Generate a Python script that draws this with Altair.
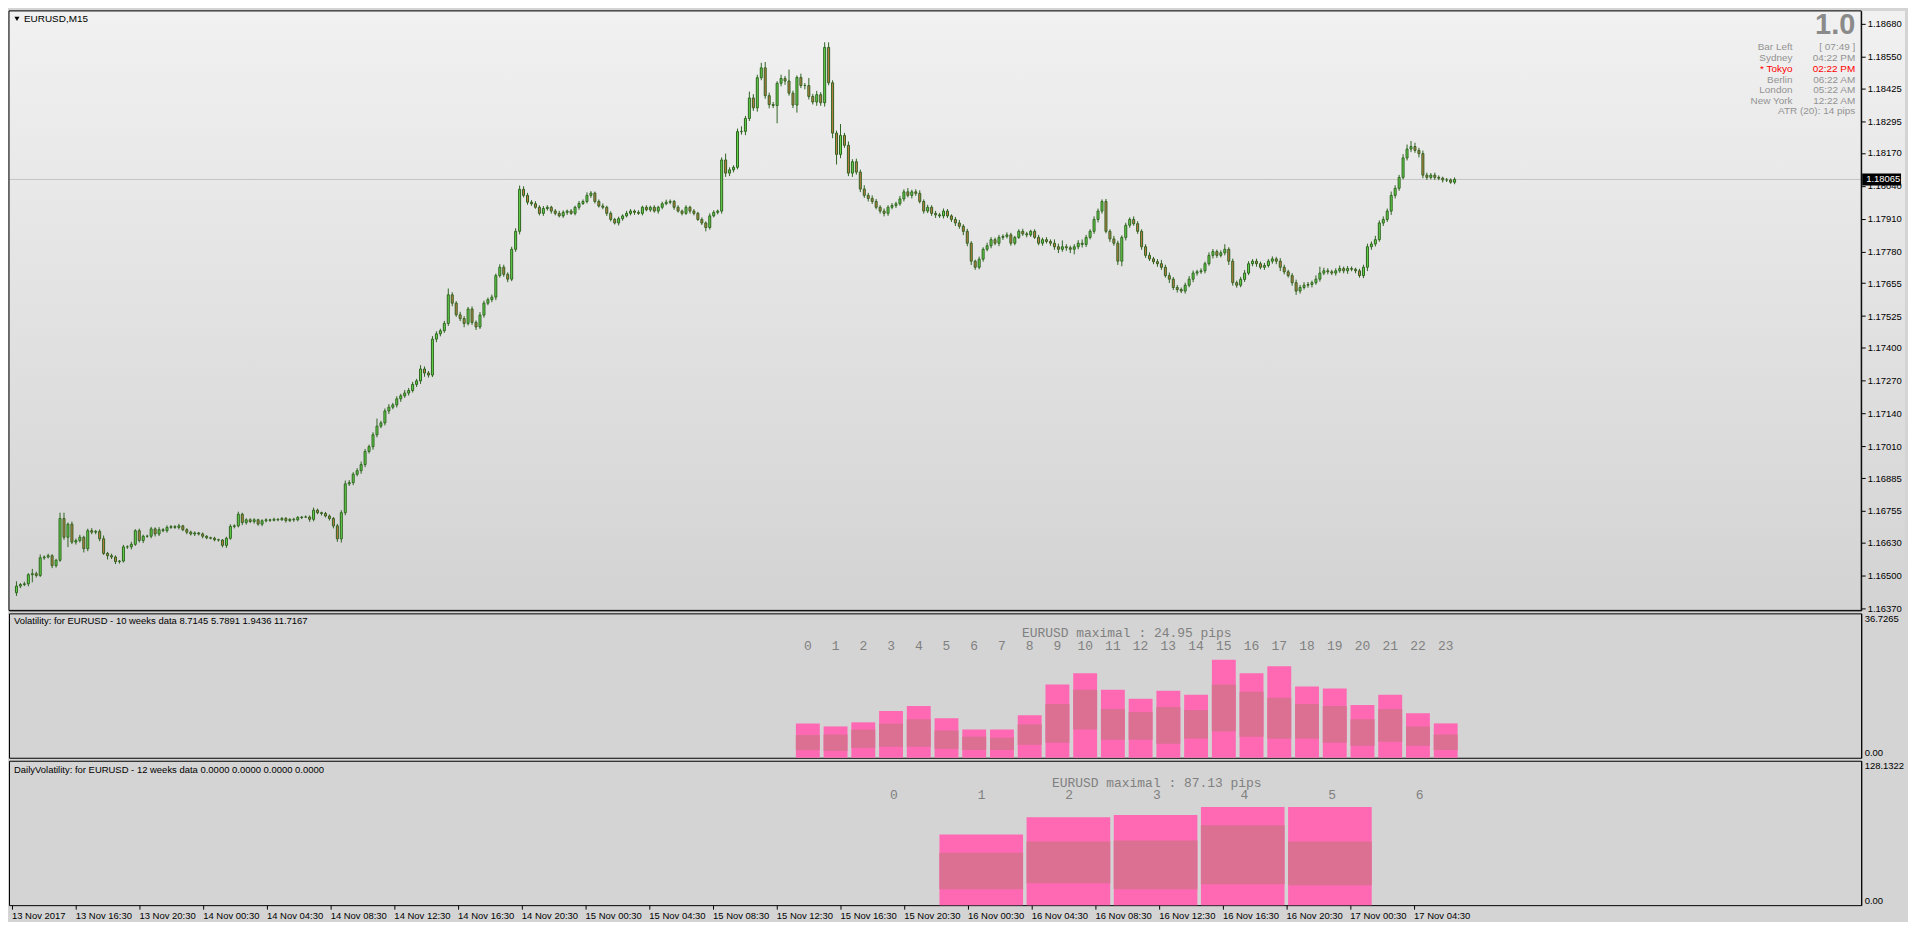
import altair as alt
import pandas as pd

# ------------------------------------------------------------------ data
symbol_title = "EURUSD,M15"
price_base = 1.16            # candle values below are in points (1e-5) above this base
first_open_pts = 432
close_pts = [
    458, 464, 467, 503, 507, 500, 570, 573, 578, 539,
    560, 725, 651, 703, 632, 638, 651, 606, 677, 671,
    674, 645, 587, 578, 573, 555, 557, 613, 613, 623,
    677, 638, 655, 655, 684, 664, 681, 677, 690, 693,
    690, 696, 681, 671, 664, 668, 664, 655, 649, 647,
    641, 640, 619, 647, 694, 696, 742, 709, 720, 713,
    720, 703, 716, 720, 718, 722, 720, 725, 717, 722,
    720, 729, 731, 731, 722, 758, 748, 745, 735, 725,
    696, 645, 748, 862,
    867, 900, 914, 938, 990, 1009, 1056, 1090, 1103, 1150,
    1165, 1174, 1198, 1210, 1221, 1231, 1255, 1269, 1316, 1300,
    1292, 1434, 1455, 1467, 1496, 1609, 1576, 1530, 1515, 1496,
    1553, 1500, 1482, 1529, 1576, 1590, 1600, 1685, 1718, 1690,
    1671, 1789, 1860, 2026, 2002, 1975, 1969, 1955, 1931, 1950,
    1955, 1940,
    1931, 1921, 1935, 1940, 1931, 1955, 1970, 1978, 2002, 2011,
    1978, 1960, 1955, 1931, 1907, 1893, 1910, 1921, 1931, 1940,
    1935, 1931, 1955, 1945, 1955, 1940, 1955, 1969, 1975, 1978,
    1955, 1940, 1931, 1955, 1940, 1931, 1907, 1893, 1875, 1921,
    1935, 1940,
    2142, 2090, 2103, 2113, 2254, 2255, 2306, 2387, 2348, 2467,
    2506, 2396, 2361, 2357, 2445, 2464, 2454, 2406, 2359, 2468,
    2436, 2436, 2393, 2371, 2400, 2368, 2587, 2447, 2248, 2164,
    2239, 2200, 2090, 2135, 2094, 2027,
    2002, 1990, 1978, 1955, 1940, 1931, 1955, 1962, 1969, 1988,
    2016, 2002, 2016, 2010, 1978, 1940, 1955, 1931, 1925, 1921,
    1940, 1921, 1907, 1893, 1880, 1860, 1813, 1742, 1718, 1750,
    1789, 1803, 1827, 1813, 1836, 1840, 1846, 1813, 1836, 1860,
    1850, 1846, 1860, 1836, 1813, 1827, 1820, 1813, 1799, 1789,
    1799, 1795, 1789, 1799, 1813, 1808, 1836, 1860, 1907, 1940,
    1978, 1860, 1830, 1813, 1742, 1836, 1884, 1907, 1890, 1860,
    1799, 1765, 1751, 1740, 1732, 1718, 1685, 1671, 1638, 1630,
    1624, 1647, 1671, 1695, 1700, 1704, 1732, 1765, 1780, 1765,
    1775, 1789, 1742, 1657, 1647, 1670, 1695, 1732, 1742, 1732,
    1718, 1725, 1742, 1751, 1742, 1718, 1700, 1685, 1657, 1624,
    1638, 1647, 1650, 1657, 1671, 1695, 1704, 1700, 1695, 1704,
    1713, 1704, 1713, 1710, 1704, 1685, 1718, 1799, 1810, 1827,
    1893, 1907, 1940, 2002, 2030, 2073, 2150, 2185, 2195, 2180,
    2167, 2082, 2073, 2082, 2073, 2070, 2063, 2063, 2054, 2065,
]
up_wick_pts = [
    19, 6, 8, 6, 19, 8, 13, 6, 8, 6, 6, 23, 23, 6, 10, 8, 10, 6, 8, 10,
    6, 8, 13, 6, 8, 6, 4, 8, 6, 10, 6, 8, 6, 6, 8, 6, 10, 6, 8, 6,
    6, 8, 4, 6, 6, 6, 4, 6, 4, 4, 6, 4, 4, 6, 8, 6, 10, 6, 6, 6,
    6, 4, 6, 6, 4, 6, 4, 6, 6, 4, 6, 6, 4, 6, 6, 10, 6, 4, 6, 6,
    6, 8, 10, 13, 10, 8, 10, 12, 10, 8, 10, 30, 8, 10, 12, 8, 10, 8, 12, 10,
    10, 8, 15, 10, 8, 12, 10, 8, 10, 25, 10, 8, 12, 10, 8, 10, 8, 12, 10, 8,
    10, 8, 12, 10, 8, 10, 12, 15, 12, 10, 8, 10, 8, 10, 8, 6, 8, 10, 8, 6,
    8, 6, 10, 8, 12, 8, 6, 8, 10, 6, 8, 6, 8, 6, 10, 8, 6, 8, 6, 8,
    6, 8, 6, 8, 10, 8, 6, 8, 6, 8, 6, 8, 6, 8, 6, 10, 8, 6, 10, 25,
    10, 8, 12, 20, 10, 25, 15, 12, 20, 23, 12, 10, 8, 15, 10, 45, 10, 8, 15, 10,
    30, 10, 15, 10, 20, 20, 10, 10, 45, 10, 15, 10, 12, 10, 15, 10, 12, 10, 8, 10,
    8, 10, 8, 12, 10, 15, 8, 10, 12, 8, 10, 8, 10, 8, 10, 8, 6, 10, 12, 8,
    10, 8, 6, 10, 8, 12, 10, 8, 10, 8, 10, 8, 6, 8, 10, 8, 6, 8, 10, 8,
    10, 8, 15, 12, 25, 10, 8, 10, 12, 15, 10, 8, 12, 10, 8, 10, 8, 12, 10, 8,
    10, 8, 12, 10, 8, 10, 12, 8, 10, 15, 10, 12, 8, 10, 8, 10, 12, 10, 8, 10,
    8, 12, 10, 8, 10, 20, 8, 10, 8, 10, 12, 10, 8, 10, 8, 10, 8, 10, 8, 12,
    10, 8, 10, 12, 10, 12, 10, 8, 15, 25, 12, 10, 8, 10, 12, 8, 10, 8, 6, 8,
    10, 12, 10, 15, 10, 12, 10, 15, 12, 10, 15, 18, 22, 15, 10, 12, 10, 8, 10, 8, 6, 8, 6, 8,
]
down_wick_pts = [
    13, 8, 6, 10, 30, 8, 6, 8, 6, 10, 8, 6, 10, 39, 8, 10, 8, 15, 10, 8,
    8, 10, 6, 15, 8, 10, 8, 6, 8, 10, 6, 8, 10, 6, 8, 10, 8, 6, 8, 6,
    6, 8, 6, 8, 6, 8, 6, 8, 6, 4, 6, 6, 8, 10, 6, 8, 6, 10, 8, 6,
    8, 6, 8, 6, 6, 4, 6, 4, 8, 6, 8, 6, 6, 4, 10, 8, 6, 8, 6, 8,
    10, 12, 15, 10, 8, 10, 8, 12, 10, 8, 12, 10, 8, 10, 12, 8, 10, 12, 8, 10,
    8, 10, 12, 15, 10, 8, 12, 10, 8, 10, 12, 8, 10, 15, 8, 10, 12, 8, 10, 8,
    10, 12, 8, 10, 12, 8, 10, 12, 8, 10, 8, 6, 8, 10, 8, 10, 8, 6, 8, 10,
    6, 8, 10, 6, 8, 10, 8, 6, 8, 10, 8, 6, 10, 8, 6, 8, 10, 6, 8, 6,
    8, 6, 10, 8, 6, 8, 10, 6, 8, 6, 10, 8, 6, 8, 15, 8, 6, 8, 10, 15,
    12, 10, 8, 12, 15, 10, 12, 15, 10, 12, 15, 10, 70, 12, 15, 10, 12, 30, 10, 15,
    12, 10, 15, 12, 15, 10, 20, 40, 15, 10, 12, 15, 10, 12, 10, 12, 10, 8, 10, 12,
    10, 8, 10, 8, 10, 8, 12, 10, 8, 10, 8, 10, 12, 8, 10, 8, 10, 12, 10, 15,
    12, 15, 10, 8, 10, 8, 10, 8, 12, 10, 8, 10, 8, 6, 8, 10, 8, 6, 8, 10,
    8, 10, 12, 15, 10, 12, 15, 20, 10, 12, 10, 8, 10, 12, 10, 8, 12, 10, 15, 20,
    12, 10, 8, 10, 12, 10, 8, 10, 12, 10, 8, 15, 10, 12, 8, 10, 8, 12, 10, 8,
    10, 8, 12, 10, 8, 10, 15, 12, 10, 8, 10, 8, 10, 12, 8, 10, 8, 10, 12, 15,
    10, 8, 12, 15, 10, 8, 10, 12, 8, 10, 8, 10, 8, 10, 8, 10, 12, 8, 10, 8,
    10, 15, 12, 10, 8, 12, 10, 15, 12, 10, 8, 10, 12, 10, 15, 12, 10, 8, 10, 8, 10, 8, 6, 8,
]

price_ticks = [1.18680, 1.18550, 1.18425, 1.18295, 1.18170, 1.18040, 1.17910,
               1.17780, 1.17655, 1.17525, 1.17400, 1.17270, 1.17140, 1.17010,
               1.16885, 1.16755, 1.16630, 1.16500, 1.16370]
price_domain = [1.16362, 1.18731]
current_price = 1.18065

time_tick_bars = [0, 16, 32, 48, 64, 80, 96, 112, 128, 144, 160, 176,
                  192, 208, 224, 240, 256, 272, 288, 304, 320, 336, 352]
time_tick_labels = ["13 Nov 2017", "13 Nov 16:30", "13 Nov 20:30", "14 Nov 00:30",
                    "14 Nov 04:30", "14 Nov 08:30", "14 Nov 12:30", "14 Nov 16:30",
                    "14 Nov 20:30", "15 Nov 00:30", "15 Nov 04:30", "15 Nov 08:30",
                    "15 Nov 12:30", "15 Nov 16:30", "15 Nov 20:30", "16 Nov 00:30",
                    "16 Nov 04:30", "16 Nov 08:30", "16 Nov 12:30", "16 Nov 16:30",
                    "16 Nov 20:30", "17 Nov 00:30", "17 Nov 04:30"]

big_text = "1.0"
info_labels = ["Bar Left", "Sydney", "* Tokyo", "Berlin", "London", "New York"]
info_values = ["[ 07:49 ]", "04:22 PM", "02:22 PM", "06:22 AM", "05:22 AM", "12:22 AM"]
info_highlight = [False, False, True, False, False, False]
atr_text = "ATR (20): 14 pips"

vol_title = "Volatility: for EURUSD - 10 weeks data  8.7145 5.7891 1.9436 11.7167"
vol_header = "EURUSD maximal : 24.95 pips"
vol_max = 36.7265
hours = list(range(24))
hour_total = [8.71, 7.97, 9.01, 11.87, 13.17, 10.05, 7.19, 7.19, 10.83, 18.63, 21.48, 17.33,
              14.99, 17.07, 16.03, 24.95, 21.48, 23.30, 18.11, 17.59, 13.43, 16.03, 11.35, 8.75]
hour_band_hi = [5.79, 5.89, 7.19, 8.66, 9.79, 6.93, 5.37, 5.11, 8.49, 13.69, 17.33, 12.39,
                11.61, 12.91, 12.13, 18.63, 16.81, 15.25, 13.69, 13.17, 9.79, 12.39, 7.97, 5.89]
hour_band_lo = [1.94, 1.73, 2.51, 2.77, 2.77, 2.25, 1.99, 1.99, 3.29, 3.81, 7.19, 4.59,
                4.59, 3.55, 4.85, 6.67, 5.37, 4.85, 4.85, 3.81, 3.03, 4.07, 3.03, 1.99]

daily_title = "DailyVolatility: for EURUSD - 12 weeks data  0.0000 0.0000 0.0000 0.0000"
daily_header = "EURUSD maximal : 87.13 pips"
daily_max = 128.1322
day_labels = [0, 1, 2, 3, 4, 5, 6]
days = [1, 2, 3, 4, 5]
day_total = [62.8, 78.1, 79.9, 87.13, 87.0]
day_band_hi = [46.6, 56.5, 57.4, 70.9, 56.5]
day_band_lo = [14.1, 19.5, 14.1, 18.6, 17.7]

# ------------------------------------------------------------------ layout / style
W = 1860
H_MAIN = 602
H_SUB = 145
FONT = "Liberation Sans"
MONO = "Liberation Mono"
FS = 9.5
BG = "#D4D4D4"
UP_FILL = "#62D64A"
DN_FILL = "#C47C45"
OUTLINE = "#2F6420"
WICK = "#2F6420"
PINK = "#FF69B4"
PINK_DARK = "#DB7093"
GRAY_TXT = "#808080"
INFO_TXT = "#939393"

# ------------------------------------------------------------------ candles
rows = []
prev = first_open_pts
for i, (c, uw, dw) in enumerate(zip(close_pts, up_wick_pts, down_wick_pts)):
    o = prev
    rows.append({
        "i": i,
        "open": price_base + o / 1e5,
        "close": price_base + c / 1e5,
        "high": price_base + (max(o, c) + uw) / 1e5,
        "low": price_base + (min(o, c) - dw) / 1e5,
    })
    prev = c
candles = pd.DataFrame(rows)

# 4 px per bar; the extra 1/8 bar puts candle centres on half pixels (crisp 1px lines)
x_bars = alt.Scale(domain=[-0.625, W / 4 - 0.625], nice=False, zero=False)
y_price_scale = alt.Scale(domain=price_domain, nice=False, zero=False)
y_price_axis = alt.Axis(orient="right", values=price_ticks, format=".5f", title=None,
                        grid=False, labelFont=FONT, labelFontSize=FS, labelColor="black",
                        tickColor="black", tickSize=4, domainColor="black", labelPadding=2,
                        labelFlush=False, labelOverlap=False, zindex=2)


def px(field):
    return alt.X(field, type="quantitative", scale=x_bars, axis=None)


def py(field):
    return alt.Y(field, type="quantitative", scale=y_price_scale, axis=y_price_axis)


one = pd.DataFrame({"k": [0]})

bg = alt.Chart(one).mark_rect(
    fill={"gradient": "linear", "x1": 0, "y1": 0, "x2": 0, "y2": 1,
          "stops": [{"offset": 0, "color": "#F1F1F1"}, {"offset": 1, "color": "#D3D3D3"}]},
    clip=False,
).encode(x=alt.value(0), x2=alt.value(W + 44), y=alt.value(0), y2=alt.value(H_MAIN))

cp_df = pd.DataFrame({"p": [current_price], "lab": [f"{current_price:.5f}"]})
cp_line = alt.Chart(cp_df).mark_rule(color="#C4C4C4", strokeWidth=1).encode(
    y=py("p"), x=alt.value(0), x2=alt.value(W))

wicks = alt.Chart(candles).mark_rule(color=WICK, strokeWidth=1).encode(
    x=px("i"), y=py("low"), y2=alt.Y2("high"))
bodies = alt.Chart(candles).mark_bar(size=2, stroke=OUTLINE, strokeWidth=1).encode(
    x=px("i"), y=py("open"), y2=alt.Y2("close"),
    fill=alt.condition("datum.close >= datum.open", alt.value(UP_FILL), alt.value(DN_FILL)))

border = alt.Chart(one).mark_rect(fillOpacity=0, stroke="black", strokeWidth=1).encode(
    x=alt.value(0), x2=alt.value(W), y=alt.value(0), y2=alt.value(H_MAIN))

tri = alt.Chart(one).mark_point(shape="triangle-down", filled=True, size=26, color="black",
                                opacity=1).encode(x=alt.value(8), y=alt.value(8))
title_txt = alt.Chart(one).mark_text(text=symbol_title, align="left", baseline="middle",
                                     font=FONT, fontSize=FS + 0.5, color="black").encode(
    x=alt.value(15), y=alt.value(8))

big = alt.Chart(one).mark_text(text=big_text, align="right", baseline="middle", font=FONT,
                               fontSize=29, fontWeight="bold", color="#8A8A8A").encode(
    x=alt.value(W - 6), y=alt.value(14))

info_layers = []
row_y = [36, 47, 58, 69, 79, 90]
for lab, val, hi, yy in zip(info_labels, info_values, info_highlight, row_y):
    col = "#FF0000" if hi else INFO_TXT
    info_layers.append(alt.Chart(one).mark_text(text=lab, align="right", baseline="middle",
                                                font=FONT, fontSize=FS + 0.5, color=col).encode(
        x=alt.value(W - 69), y=alt.value(yy)))
    info_layers.append(alt.Chart(one).mark_text(text=val, align="right", baseline="middle",
                                                font=FONT, fontSize=FS + 0.5, color=col).encode(
        x=alt.value(W - 6), y=alt.value(yy)))
info_layers.append(alt.Chart(one).mark_text(text=atr_text, align="right", baseline="middle",
                                            font=FONT, fontSize=FS + 0.5, color=INFO_TXT).encode(
    x=alt.value(W - 6), y=alt.value(101)))

cp_box = alt.Chart(cp_df).mark_rule(color="black", strokeWidth=12, clip=False).encode(
    y=py("p"), x=alt.value(W + 1), x2=alt.value(W + 40))
cp_txt = alt.Chart(cp_df).mark_text(color="white", align="left", baseline="middle", font=FONT,
                                    fontSize=FS, clip=False).encode(
    y=py("p"), x=alt.value(W + 5), text="lab:N")

main = alt.layer(bg, cp_line, wicks, bodies, border, tri, title_txt, big, *info_layers,
                 cp_box, cp_txt).properties(width=W, height=H_MAIN)


# ------------------------------------------------------------------ sub panels
def sub_axis(vmax):
    return alt.Axis(orient="right", values=[0, vmax], title=None, grid=False, ticks=False,
                    labelExpr="datum.value < 1 ? '0.00' : format(datum.value, '.4f')",
                    labelBaseline={"condition": {"test": "datum.value > 1", "value": "top"},
                                   "value": "bottom"},
                    labelFont=FONT, labelFontSize=FS, labelColor="black", labelPadding=3,
                    domainColor="black", labelFlush=False, labelOverlap=False, zindex=2)


# hourly volatility
hour_df = pd.DataFrame({"hour": hours, "total": hour_total, "hi": hour_band_hi,
                        "lo": hour_band_lo, "lab": [str(h) for h in hours]})
HOUR0_PX, HOUR_STEP = 801.5, 28.0
hx_scale = alt.Scale(domain=[-HOUR0_PX / HOUR_STEP, (W - HOUR0_PX) / HOUR_STEP], nice=False, zero=False)
vy_scale = alt.Scale(domain=[0, vol_max], nice=False, zero=False)
vy_axis = sub_axis(vol_max)


def hx(f):
    return alt.X(f, type="quantitative", scale=hx_scale, axis=None)


def vy(f):
    return alt.Y(f, type="quantitative", scale=vy_scale, axis=vy_axis)


vb = alt.Chart(hour_df).transform_calculate(base="0").mark_bar(size=24, color=PINK, orient="vertical").encode(
    x=hx("hour"), y=vy("base"), y2=alt.Y2("total"))
vband = alt.Chart(hour_df).mark_bar(size=24, color=PINK_DARK, orient="vertical").encode(
    x=hx("hour"), y=vy("lo"), y2=alt.Y2("hi"))
vlab = alt.Chart(hour_df).mark_text(font=MONO, fontSize=13, color=GRAY_TXT, baseline="middle").encode(
    x=hx("hour"), y=alt.value(33), text="lab:N")
vhead = alt.Chart(pd.DataFrame({"hour": [(hours[0] + hours[-1]) / 2], "t": [vol_header]})).mark_text(
    font=MONO, fontSize=13, color=GRAY_TXT, baseline="middle").encode(
    x=hx("hour"), y=alt.value(20), text="t:N")
vtitle = alt.Chart(one).mark_text(text=vol_title, align="left", baseline="middle", font=FONT,
                                  fontSize=FS, color="black").encode(x=alt.value(5), y=alt.value(8))
vol = alt.layer(vb, vband, vlab, vhead, vtitle).properties(width=W, height=H_SUB)

# daily volatility
day_df = pd.DataFrame({"day": days, "total": day_total, "hi": day_band_hi, "lo": day_band_lo})
daylab_df = pd.DataFrame({"day": day_labels, "lab": [str(d) for d in day_labels]})
DAY0_PX, DAY_STEP = 888.6, 88.0
dx_scale = alt.Scale(domain=[-DAY0_PX / DAY_STEP, (W - DAY0_PX) / DAY_STEP], nice=False, zero=False)
dy_scale = alt.Scale(domain=[0, daily_max], nice=False, zero=False)
dy_axis = sub_axis(daily_max)


def dxe(f):
    return alt.X(f, type="quantitative", scale=dx_scale, axis=None)


def dye(f):
    return alt.Y(f, type="quantitative", scale=dy_scale, axis=dy_axis)


db = alt.Chart(day_df).transform_calculate(base="0").mark_bar(size=84, color=PINK, orient="vertical").encode(
    x=dxe("day"), y=dye("base"), y2=alt.Y2("total"))
dband = alt.Chart(day_df).mark_bar(size=84, color=PINK_DARK, orient="vertical").encode(
    x=dxe("day"), y=dye("lo"), y2=alt.Y2("hi"))
dlab = alt.Chart(daylab_df).mark_text(font=MONO, fontSize=13, color=GRAY_TXT, baseline="middle").encode(
    x=dxe("day"), y=alt.value(34), text="lab:N")
dhead = alt.Chart(pd.DataFrame({"day": [(day_labels[0] + day_labels[-1]) / 2], "t": [daily_header]})).mark_text(
    font=MONO, fontSize=13, color=GRAY_TXT, baseline="middle").encode(
    x=dxe("day"), y=alt.value(22), text="t:N")
dtitle = alt.Chart(one).mark_text(text=daily_title, align="left", baseline="middle", font=FONT,
                                  fontSize=FS, color="black").encode(x=alt.value(5), y=alt.value(9))

label_expr = ("[" + ",".join(repr(s) for s in time_tick_labels) + "][indexof(["
              + ",".join(str(b) for b in time_tick_bars) + "], datum.value)]")
time_axis = alt.Axis(orient="bottom", values=time_tick_bars, labelExpr=label_expr, labelAlign="left",
                     labelPadding=1, tickSize=4, tickColor="black", domain=False, grid=False,
                     title=None, labelFont=FONT, labelFontSize=FS, labelColor="black",
                     labelFlush=False, labelOverlap=False, labelBound=False)
time_layer = alt.Chart(pd.DataFrame({"bar": time_tick_bars})).mark_point(opacity=0).encode(
    x=alt.X("bar:Q", scale=x_bars, axis=time_axis), y=alt.value(0))

daily = alt.layer(db, dband, dlab, dhead, dtitle, time_layer).resolve_scale(x="independent").properties(
    width=W, height=H_SUB)

chart = alt.vconcat(main, vol, daily, spacing=3, bounds="flush").resolve_scale(
    x="independent", y="independent").properties(
    padding=0, background=BG).configure_view(stroke="black", strokeWidth=1)

chart.save("out.html", embed_options={"renderer": "svg", "actions": False})
